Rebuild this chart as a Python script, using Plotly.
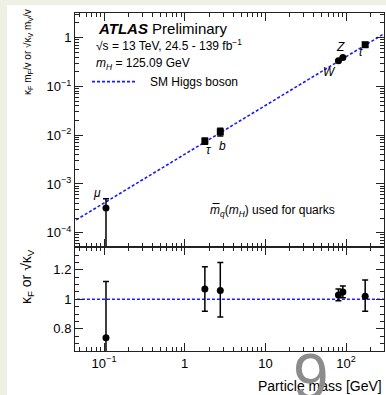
import plotly.graph_objects as go

# ---------------- data ----------------
particles = ["μ", "τ", "b", "W", "Z", "t"]
mass_gev = [0.1057, 1.777, 2.76, 80.4, 91.19, 172.5]
# upper panel: reduced coupling strength  kappa_F*m_F/v  or  sqrt(kappa_V)*m_V/v
reduced = [3.2e-4, 7.6e-3, 0.0117, 0.335, 0.39, 0.715]
reduced_up = [1.8e-4, 1.1e-3, 2.2e-3, 0.014, 0.015, 0.08]
reduced_dn = [3.19e-4, 1.1e-3, 2.1e-3, 0.014, 0.015, 0.07]
# lower panel: kappa_F or sqrt(kappa_V)
kappa = [0.74, 1.07, 1.06, 1.03, 1.05, 1.02]
kappa_up = [0.38, 0.15, 0.19, 0.04, 0.04, 0.11]
kappa_dn = [0.60, 0.15, 0.18, 0.04, 0.04, 0.10]
marker_sym = ["circle", "square", "square", "circle", "circle", "square"]
vev = 246.0
sm_mass = [0.04, 320.0]
sm_line = [m / vev for m in sm_mass]

# label positions (log10 x, log10 y) for particle names
lab_x = [-1.09, 0.30, 0.47, 1.80, 1.93, 2.19]
lab_y = [-3.19, -2.30, -2.23, -0.70, -0.19, -0.30]

x_major = [0.1, 1, 10, 100]
x_major_txt = ["10<sup>−1</sup>", "1", "10", "10<sup>2</sup>"]
y_major = [1e-4, 1e-3, 1e-2, 1e-1, 1]
y_major_txt = ["10<sup>−4</sup>", "10<sup>−3</sup>", "10<sup>−2</sup>", "10<sup>−1</sup>", "1"]
minor_log = [k * 10.0 ** e for e in range(-5, 3) for k in range(2, 10)]

BLUE = "#1a1aff"
FONT = "Liberation Sans"

fig = go.Figure()

fig.add_trace(go.Scatter(x=sm_mass, y=sm_line, mode="lines", xaxis="x", yaxis="y",
                         line=dict(color=BLUE, width=1.6, dash="3px,2px"), showlegend=False,
                         hoverinfo="skip"))
fig.add_trace(go.Scatter(x=sm_mass, y=[1, 1], mode="lines", xaxis="x2", yaxis="y2",
                         line=dict(color=BLUE, width=1.6, dash="3px,2px"), showlegend=False,
                         hoverinfo="skip"))

fig.add_trace(go.Scatter(
    x=mass_gev, y=reduced, mode="markers", xaxis="x", yaxis="y",
    marker=dict(color="black", size=7, symbol=marker_sym),
    error_y=dict(type="data", symmetric=False, array=reduced_up, arrayminus=reduced_dn,
                 color="black", thickness=1.5, width=3),
    showlegend=False))

fig.add_trace(go.Scatter(
    x=mass_gev, y=kappa, mode="markers", xaxis="x2", yaxis="y2",
    marker=dict(color="black", size=7, symbol="circle"),
    error_y=dict(type="data", symmetric=False, array=kappa_up, arrayminus=kappa_dn,
                 color="black", thickness=1.5, width=3),
    showlegend=False))

axis_common = dict(
    showline=True, linecolor="#222", linewidth=1, mirror="allticks",
    ticks="inside", ticklen=8, tickcolor="#222", tickwidth=1,
    showgrid=False, zeroline=False,
    tickfont=dict(family=FONT, size=13, color="black"),
)

xr = [-1.36, 2.47]
fig.update_layout(
    width=379, height=390,
    margin=dict(l=68, r=2, t=8, b=44),
    paper_bgcolor="white", plot_bgcolor="white",
    font=dict(family=FONT, color="black"),
    xaxis=dict(type="log", range=xr, domain=[0, 1], anchor="y",
               tickmode="array", tickvals=x_major, showticklabels=False,
               minor=dict(ticks="inside", ticklen=4, tickcolor="#222",
                          tickmode="array", tickvals=minor_log),
               **axis_common),
    yaxis=dict(type="log", range=[-4.29, 0.505], domain=[0.308, 1], anchor="x",
               tickmode="array", tickvals=y_major, ticktext=y_major_txt,
               minor=dict(ticks="inside", ticklen=4, tickcolor="#222",
                          tickmode="array", tickvals=minor_log),
               **axis_common),
    xaxis2=dict(type="log", range=xr, domain=[0, 1], anchor="y2",
                tickmode="array", tickvals=x_major, ticktext=x_major_txt,
                minor=dict(ticks="inside", ticklen=4, tickcolor="#222",
                           tickmode="array", tickvals=minor_log),
                **axis_common),
    yaxis2=dict(range=[0.65, 1.355], domain=[0, 0.308], anchor="x2",
                tickmode="array", tickvals=[0.8, 1.0, 1.2], ticktext=["0.8", "1", "1.2"],
                minor=dict(ticks="inside", ticklen=4, tickcolor="#222", dtick=0.05),
                **axis_common),
)

ann = []
for name, lx, ly in zip(particles, lab_x, lab_y):
    ann.append(dict(x=lx, y=ly, xref="x", yref="y", text=f"<i>{name}</i>", showarrow=False,
                    font=dict(family=FONT, size=12, color="black")))

ann += [
    dict(x=0.068, y=0.953, xref="paper", yref="paper", xanchor="left", yanchor="middle",
         text="<b><i>ATLAS</i></b> Preliminary", showarrow=False,
         font=dict(family=FONT, size=15)),
    dict(x=0.062, y=0.906, xref="paper", yref="paper", xanchor="left", yanchor="middle",
         text="√s = 13 TeV, 24.5 - 139 fb<sup>−1</sup>", showarrow=False,
         font=dict(family=FONT, size=12)),
    dict(x=0.062, y=0.849, xref="paper", yref="paper", xanchor="left", yanchor="middle",
         text="<i>m<sub>H</sub></i> = 125.09 GeV", showarrow=False,
         font=dict(family=FONT, size=12)),
    dict(x=0.235, y=0.797, xref="paper", yref="paper", xanchor="left", yanchor="middle",
         text="SM Higgs boson", showarrow=False, font=dict(family=FONT, size=12)),
    dict(x=0.43, y=0.413, xref="paper", yref="paper", xanchor="left", yanchor="middle",
         text="<i>m̅<sub>q</sub></i>(<i>m<sub>H</sub></i>) used for quarks", showarrow=False,
         font=dict(family=FONT, size=12)),
    dict(x=1.0, y=-0.105, xref="paper", yref="paper", xanchor="right", yanchor="middle",
         text="Particle mass [GeV]", showarrow=False, font=dict(family=FONT, size=14)),
    dict(x=-0.152, y=0.885, xref="paper", yref="paper", xanchor="center", yanchor="middle",
         text="κ<sub>F</sub> m<sub>F</sub>/v or √κ<sub>V</sub> m<sub>V</sub>/v", textangle=-90,
         showarrow=False, font=dict(family=FONT, size=10)),
    dict(x=-0.155, y=0.219, xref="paper", yref="paper", xanchor="center", yanchor="middle",
         text="κ<sub>F</sub> or √κ<sub>V</sub>", textangle=-90,
         showarrow=False, font=dict(family=FONT, size=14)),
    dict(x=0.764, y=-0.19, xref="paper", yref="paper", xanchor="center", yanchor="bottom",
         text="9", showarrow=False, font=dict(family=FONT, size=64, color="#8c8c8c")),
]
fig.update_layout(annotations=ann)

fig.add_shape(type="line", xref="paper", yref="paper", x0=0.055, x1=0.195, y0=0.797, y1=0.797,
              line=dict(color=BLUE, width=1.6, dash="3px,2px"))

# page: beige strip on the left/top as in the reference
post = ("document.body.style.margin='5px 0 0 7px';"
        "document.body.style.background='#eef0e4';"
        "document.body.style.overflow='hidden';")
fig.write_html("out.html", post_script=post)
